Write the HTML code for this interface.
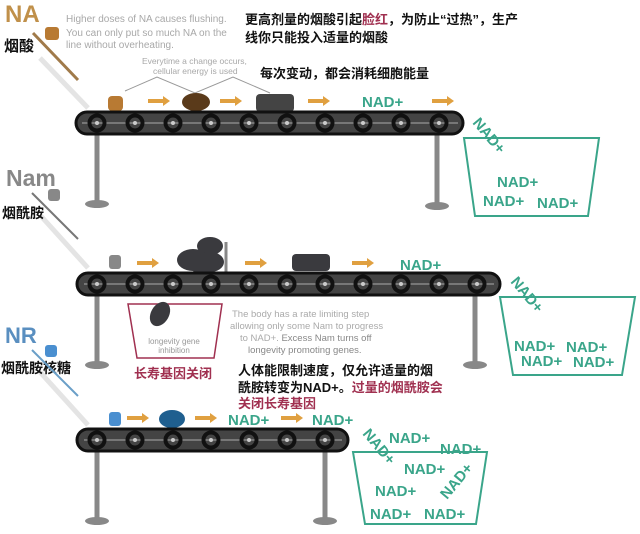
<!DOCTYPE html>
<html><head><meta charset="utf-8"><style>
html,body{margin:0;padding:0;background:#fff;width:640px;height:534px;overflow:hidden}
svg text{font-family:"Liberation Sans","Noto Sans CJK SC",sans-serif}
.cn{font-family:"Liberation Sans","Noto Sans CJK SC",sans-serif;font-weight:bold}
.nad{fill:#3aa58a;font-weight:bold;font-size:15px}
</style></head><body>
<svg width="640" height="534" viewBox="0 0 640 534" xmlns="http://www.w3.org/2000/svg">
<defs>
<g id="roller"><circle r="7.5" fill="none" stroke="#111" stroke-width="4"/><circle r="2" fill="#ccc"/></g>
<g id="arr"><rect x="0" y="-2" width="16" height="4" fill="#e0a040"/><polygon points="15,-5 22,0 15,5" fill="#e0a040"/></g>
</defs>
<!-- faint diagonal shadows -->
<line x1="40" y1="58" x2="88" y2="108" stroke="#e4e4e4" stroke-width="5"/>
<line x1="40" y1="215" x2="88" y2="268" stroke="#e4e4e4" stroke-width="5"/>
<line x1="40" y1="372" x2="88" y2="425" stroke="#e4e4e4" stroke-width="5"/>
<!-- NA -->
<text x="5" y="22" font-size="24" font-weight="bold" fill="#c0904a">NA</text>
<text x="4" y="51" class="cn" font-size="15" fill="#111">烟酸</text>
<rect x="45" y="27" width="14" height="13" rx="3" fill="#b87a33"/>
<line x1="33" y1="33" x2="78" y2="80" stroke="#a07a4a" stroke-width="3"/>
<text x="66" y="22" font-size="10" fill="#a8a8a8">Higher doses of NA causes flushing.</text>
<text x="66" y="36" font-size="10" fill="#a8a8a8">You can only put so much NA on the</text>
<text x="66" y="48" font-size="10" fill="#a8a8a8">line without overheating.</text>
<text x="245" y="24" class="cn" font-size="13" fill="#111">更高剂量的烟酸引起<tspan fill="#a03050">脸红</tspan>，为防止“过热”，生产</text>
<text x="245" y="42" class="cn" font-size="13" fill="#111">线你只能投入适量的烟酸</text>
<text x="142" y="64" font-size="8.5" fill="#a8a8a8">Everytime a change occurs,</text>
<text x="153" y="74" font-size="8.5" fill="#a8a8a8">cellular energy is used</text>
<text x="260" y="78" class="cn" font-size="13" fill="#111">每次变动，都会消耗细胞能量</text>
<polyline points="125,91 157,77 195,93 233,77 270,93" fill="none" stroke="#999" stroke-width="1"/>
<!-- conveyor 1 -->
<rect x="108" y="96" width="15" height="15" rx="4" fill="#b87a33"/>
<use href="#arr" x="148" y="101"/>
<ellipse cx="196" cy="102" rx="14" ry="9" fill="#5a3a1a"/>
<use href="#arr" x="220" y="101"/>
<rect x="256" y="94" width="38" height="18" rx="4" fill="#444"/>
<use href="#arr" x="308" y="101"/>
<text x="362" y="107" class="nad">NAD+</text>
<use href="#arr" x="432" y="101"/>
<line x1="97" y1="123" x2="97" y2="202" stroke="#888" stroke-width="5"/>
<ellipse cx="97" cy="204" rx="12" ry="4" fill="#888"/>
<line x1="437" y1="123" x2="437" y2="204" stroke="#888" stroke-width="5"/>
<ellipse cx="437" cy="206" rx="12" ry="4" fill="#888"/>
<rect x="76" y="112" width="387" height="22" rx="11" fill="#444" stroke="#111" stroke-width="3"/>
<line x1="82" y1="123" x2="458" y2="123" stroke="#888" stroke-width="1.5"/>
<g><use href="#roller" x="97" y="123"/><use href="#roller" x="135" y="123"/><use href="#roller" x="173" y="123"/><use href="#roller" x="211" y="123"/><use href="#roller" x="249" y="123"/><use href="#roller" x="287" y="123"/><use href="#roller" x="325" y="123"/><use href="#roller" x="363" y="123"/><use href="#roller" x="401" y="123"/><use href="#roller" x="439" y="123"/></g>
<polygon points="464,138 599,138 588,216 475,216" fill="none" stroke="#3aa58a" stroke-width="2"/>
<text class="nad" transform="translate(472,123) rotate(50)">NAD+</text>
<text x="497" y="187" class="nad">NAD+</text>
<text x="483" y="206" class="nad">NAD+</text>
<text x="537" y="208" class="nad">NAD+</text>
<!-- Nam -->
<text x="6" y="186" font-size="23" font-weight="bold" fill="#888">Nam</text>
<rect x="48" y="189" width="12" height="12" rx="3" fill="#888"/>
<text x="2" y="218" class="cn" font-size="14" fill="#111">烟酰胺</text>
<line x1="32" y1="193" x2="78" y2="239" stroke="#777" stroke-width="2"/>
<!-- conveyor 2 -->
<rect x="109" y="255" width="12" height="14" rx="3" fill="#888"/>
<use href="#arr" x="137" y="263"/>
<ellipse cx="210" cy="246" rx="13" ry="9" fill="#3a3a3e"/>
<ellipse cx="193" cy="260" rx="16" ry="11" fill="#3a3a3e"/>
<ellipse cx="210" cy="262" rx="14" ry="10" fill="#3a3a3e"/>
<ellipse cx="202" cy="275" rx="10" ry="8" fill="#3a3a3e"/>
<line x1="226" y1="242" x2="226" y2="285" stroke="#888" stroke-width="3"/>
<use href="#arr" x="245" y="263"/>
<rect x="292" y="254" width="38" height="17" rx="4" fill="#3a3a3e"/>
<use href="#arr" x="352" y="263"/>
<text x="400" y="270" class="nad">NAD+</text>
<line x1="97" y1="284" x2="97" y2="363" stroke="#888" stroke-width="5"/>
<ellipse cx="97" cy="365" rx="12" ry="4" fill="#888"/>
<line x1="475" y1="284" x2="475" y2="363" stroke="#888" stroke-width="5"/>
<ellipse cx="475" cy="365" rx="12" ry="4" fill="#888"/>
<rect x="77" y="273" width="423" height="22" rx="11" fill="#444" stroke="#111" stroke-width="3"/>
<line x1="84" y1="284" x2="494" y2="284" stroke="#888" stroke-width="1.5"/>
<g><use href="#roller" x="97" y="284"/><use href="#roller" x="135" y="284"/><use href="#roller" x="173" y="284"/><use href="#roller" x="211" y="284"/><use href="#roller" x="249" y="284"/><use href="#roller" x="287" y="284"/><use href="#roller" x="325" y="284"/><use href="#roller" x="363" y="284"/><use href="#roller" x="401" y="284"/><use href="#roller" x="439" y="284"/><use href="#roller" x="477" y="284"/></g>
<polygon points="500,297 635,297 622,375 513,375" fill="none" stroke="#3aa58a" stroke-width="2"/>
<text class="nad" transform="translate(510,282) rotate(50)">NAD+</text>
<text x="514" y="351" class="nad">NAD+</text>
<text x="566" y="352" class="nad">NAD+</text>
<text x="521" y="366" class="nad">NAD+</text>
<text x="573" y="367" class="nad">NAD+</text>
<!-- red box -->
<polygon points="128,304 222,304 214,358 137,358" fill="none" stroke="#a03050" stroke-width="1.5"/>
<ellipse cx="160" cy="314" rx="9" ry="13" transform="rotate(30 160 314)" fill="#3a3a3e"/>
<text x="174" y="344" font-size="8" fill="#999" text-anchor="middle">longevity gene</text>
<text x="174" y="353" font-size="8" fill="#999" text-anchor="middle">inhibition</text>
<text x="134" y="378" class="cn" font-size="13" fill="#a03050">长寿基因关闭</text>
<text x="232" y="317" font-size="9.5" fill="#aaa">The body has a rate limiting step</text>
<text x="230" y="329" font-size="9.5" fill="#aaa">allowing only some Nam to progress</text>
<text x="240" y="341" font-size="9.5" fill="#aaa">to NAD+. <tspan fill="#888">Excess Nam turns off</tspan></text>
<text x="248" y="353" font-size="9.5" fill="#888">longevity promoting genes.</text>
<text x="238" y="375" class="cn" font-size="13" fill="#111">人体能限制速度，仅允许适量的烟</text>
<text x="238" y="392" class="cn" font-size="13" fill="#111">酰胺转变为NAD+。<tspan fill="#a03050">过量的烟酰胺会</tspan></text>
<text x="238" y="408" class="cn" font-size="13" fill="#a03050">关闭长寿基因</text>
<!-- NR -->
<text x="5" y="343" font-size="22" font-weight="bold" fill="#5a8fc0">NR</text>
<rect x="45" y="345" width="12" height="12" rx="3" fill="#4a8fd0"/>
<text x="1" y="373" class="cn" font-size="14" fill="#111">烟酰胺核糖</text>
<line x1="32" y1="350" x2="78" y2="396" stroke="#6a9fc8" stroke-width="2"/>
<!-- conveyor 3 -->
<rect x="109" y="412" width="12" height="14" rx="3" fill="#4a8fd0"/>
<use href="#arr" x="127" y="418"/>
<ellipse cx="172" cy="419" rx="13" ry="9" fill="#1f5f8f"/>
<use href="#arr" x="195" y="418"/>
<text x="228" y="425" class="nad">NAD+</text>
<use href="#arr" x="281" y="418"/>
<text x="312" y="425" class="nad">NAD+</text>
<line x1="97" y1="440" x2="97" y2="518" stroke="#888" stroke-width="5"/>
<ellipse cx="97" cy="521" rx="12" ry="4" fill="#888"/>
<line x1="325" y1="440" x2="325" y2="518" stroke="#888" stroke-width="5"/>
<ellipse cx="325" cy="521" rx="12" ry="4" fill="#888"/>
<rect x="77" y="429" width="271" height="22" rx="11" fill="#444" stroke="#111" stroke-width="3"/>
<line x1="84" y1="440" x2="342" y2="440" stroke="#888" stroke-width="1.5"/>
<g><use href="#roller" x="97" y="440"/><use href="#roller" x="135" y="440"/><use href="#roller" x="173" y="440"/><use href="#roller" x="211" y="440"/><use href="#roller" x="249" y="440"/><use href="#roller" x="287" y="440"/><use href="#roller" x="325" y="440"/></g>
<polygon points="353,452 487,452 476,524 365,524" fill="none" stroke="#3aa58a" stroke-width="2"/>
<text class="nad" transform="translate(362,434) rotate(50)">NAD+</text>
<text x="389" y="443" class="nad">NAD+</text>
<text x="440" y="454" class="nad">NAD+</text>
<text x="404" y="474" class="nad">NAD+</text>
<text x="375" y="496" class="nad">NAD+</text>
<text class="nad" transform="translate(447,500) rotate(-50)">NAD+</text>
<text x="370" y="519" class="nad">NAD+</text>
<text x="424" y="519" class="nad">NAD+</text>
</svg>
</body></html>
